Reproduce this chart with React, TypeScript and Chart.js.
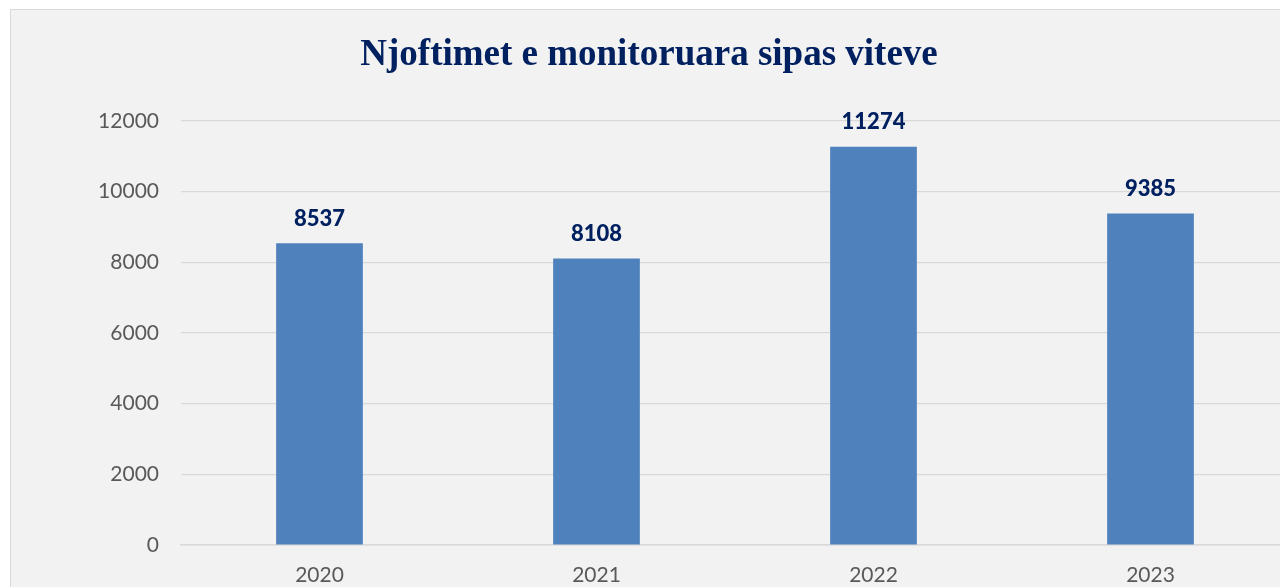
import React, { useEffect, useRef } from "react";
import { Chart, registerables } from "chart.js";

Chart.register(...registerables);

const categories = ["2020", "2021", "2022", "2023"];
const values = [8537, 8108, 11274, 9385];
const yTicks = [0, 2000, 4000, 6000, 8000, 10000, 12000];
const titleText = "Njoftimet e monitoruara sipas viteve";

const NAVY = "#002060";
const GRID = "#d9d9d9";
const TICK = "#595959";

const titlePlugin = {
  id: "customTitle",
  afterDraw(chart: any) {
    const ctx = chart.ctx;
    ctx.save();
    ctx.font = "bold 37px 'Liberation Serif', 'Times New Roman', serif";
    ctx.fillStyle = NAVY;
    ctx.textAlign = "center";
    ctx.textBaseline = "alphabetic";
    ctx.fillText(titleText, 649, 65);
    ctx.restore();
  },
};

const labelPlugin = {
  id: "barLabels",
  afterDatasetsDraw(chart: any) {
    const ctx = chart.ctx;
    const meta = chart.getDatasetMeta(0);
    ctx.save();
    ctx.font = "900 22px Lato, 'Open Sans', sans-serif";
    ctx.fillStyle = NAVY;
    ctx.textAlign = "center";
    ctx.textBaseline = "alphabetic";
    meta.data.forEach((bar: any, i: number) => {
      ctx.fillText(String(values[i]), bar.x, bar.y - 17.5);
    });
    ctx.restore();
  },
};

export default function App() {
  const ref = useRef<HTMLCanvasElement | null>(null);
  useEffect(() => {
    if (!ref.current) return;
    const chart = new Chart(ref.current, {
      type: "bar",
      data: {
        labels: categories,
        datasets: [
          {
            data: values,
            backgroundColor: "#4f81bd",
            borderWidth: 0,
            barPercentage: 0.313,
            categoryPercentage: 1,
          },
        ],
      },
      options: {
        responsive: false,
        animation: false,
        layout: { padding: { top: 121, left: 0, right: 0, bottom: 0 } },
        plugins: {
          legend: { display: false },
          title: { display: false },
          tooltip: { enabled: false },
        },
        scales: {
          x: {
            grid: { display: false, drawTicks: false },
            border: { display: true, color: GRID, width: 1.5 },
            ticks: {
              color: TICK,
              font: { family: "Lato", size: 21 },
              padding: 18,
            },
            afterFit(scale: any) {
              scale.height = 55;
            },
          },
          y: {
            min: 0,
            max: 12000,
            afterBuildTicks(scale: any) {
              scale.ticks = yTicks.map((v) => ({ value: v }));
            },
            grid: { color: GRID, lineWidth: 1.2, drawTicks: false },
            border: { display: false },
            ticks: {
              color: TICK,
              font: { family: "Lato", size: 21 },
              padding: 22,
              callback: (v: any) => String(v),
            },
            afterFit(scale: any) {
              scale.width = 181;
            },
          },
        },
      },
      plugins: [titlePlugin, labelPlugin],
    });
    return () => chart.destroy();
  }, []);

  return (
    <div
      style={{
        position: "fixed",
        left: 0,
        top: 0,
        width: 1280,
        height: 587,
        overflow: "hidden",
        background: "#ffffff",
      }}
    >
      <div
        style={{
          position: "absolute",
          left: 10,
          top: 9,
          width: 1300,
          height: 620,
          border: "1px solid #d9d9d9",
          background: "#f2f2f2",
        }}
      />
      <canvas
        ref={ref}
        width={1289}
        height={600}
        style={{ position: "absolute", left: 0, top: 0, width: 1289, height: 600 }}
      />
    </div>
  );
}
